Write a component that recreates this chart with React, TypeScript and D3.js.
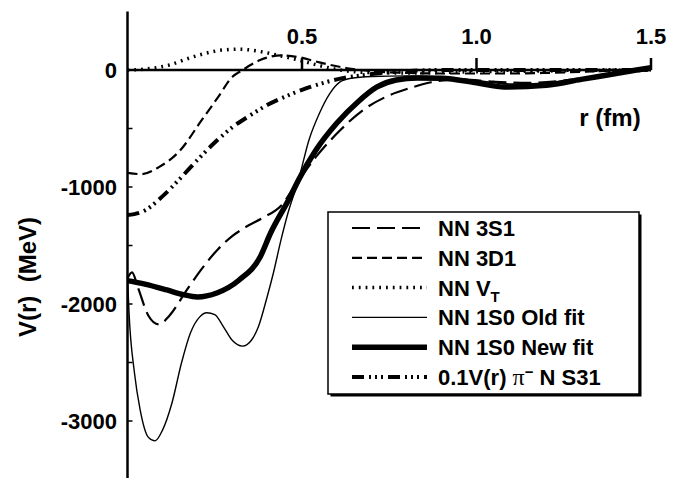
import React from "react";
import * as d3 from "d3";

// r (fm) grid and V(r) (MeV) values, one pair per curve
const rNN3S1 = [0, 0.013, 0.03, 0.06, 0.09, 0.12, 0.17, 0.21, 0.26, 0.3, 0.34, 0.39, 0.44, 0.485, 0.54, 0.61, 0.675, 0.74, 0.81, 0.87, 0.95, 1.05, 1.15, 1.25, 1.35, 1.45, 1.5];
const vNN3S1 = [-1780, -1730, -1860, -2100, -2175, -2100, -1880, -1710, -1530, -1420, -1340, -1260, -1160, -966, -743, -513, -342, -230, -154, -105, -80, -100, -110, -90, -50, -15, 0];

const rNN3D1 = [0, 0.04, 0.09, 0.15, 0.21, 0.26, 0.3, 0.33, 0.38, 0.44, 0.49, 0.55, 0.63, 0.7, 0.8, 0.9, 1.0, 1.1, 1.2, 1.3, 1.4, 1.5];
const vNN3D1 = [-880, -890, -830, -690, -440, -230, -60, 0, 85, 125, 110, 65, 15, -10, -25, -30, -30, -30, -25, -15, -5, 0];

const rNNVT = [0, 0.05, 0.12, 0.18, 0.22, 0.27, 0.32, 0.38, 0.44, 0.49, 0.54, 0.6, 0.68, 0.8, 1.0, 1.2, 1.5];
const vNNVT = [0, 8, 43, 105, 140, 170, 178, 158, 120, 85, 45, 5, -20, -25, -15, -8, 0];

const rOldFit = [0, 0.004, 0.02, 0.036, 0.06, 0.079, 0.1, 0.127, 0.155, 0.18, 0.207, 0.227, 0.25, 0.275, 0.3, 0.33, 0.355, 0.375, 0.4, 0.418, 0.44, 0.46, 0.49, 0.52, 0.55, 0.58, 0.61, 0.64, 0.7, 0.8, 0.9, 1.0, 1.1, 1.2, 1.3, 1.4, 1.5];
const vOldFit = [-1760, -2050, -2590, -2900, -3140, -3170, -3080, -2850, -2500, -2250, -2110, -2075, -2090, -2195, -2310, -2360, -2310, -2195, -1940, -1735, -1450, -1220, -940, -598, -370, -200, -100, -70, -55, -50, -60, -90, -120, -110, -70, -30, 10];

const rNewFit = [0, 0.05, 0.113, 0.16, 0.2, 0.256, 0.32, 0.38, 0.41, 0.466, 0.49, 0.54, 0.6, 0.66, 0.715, 0.77, 0.83, 0.9, 1.0, 1.08, 1.2, 1.3, 1.4, 1.5];
const vNewFit = [-1800, -1830, -1880, -1920, -1940, -1906, -1795, -1598, -1393, -1085, -940, -684, -453, -273, -145, -85, -68, -70, -110, -145, -130, -80, -30, 20];

const rS31 = [0, 0.05, 0.1, 0.15, 0.2, 0.25, 0.3, 0.35, 0.4, 0.45, 0.5, 0.55, 0.6, 0.7, 0.8, 0.9, 1.2, 1.5];
const vS31 = [-1240, -1200, -1080, -930, -770, -620, -490, -390, -300, -230, -170, -120, -80, -35, -10, 0, 0, 0];

const xTicks = [0.5, 1.0, 1.5];
const xTickLabels = ["0.5", "1.0", "1.5"];
const yTicks = [0, -1000, -2000, -3000];
const yMinorTicks = [-500, -1000, -1500, -2000, -2500, -3000, -3500];

const FONT = "'Liberation Sans', Arial, Helvetica, sans-serif";

const series = [
  { name: "NN 3S1", r: rNN3S1, v: vNN3S1, width: 2.2, dash: "18,7" },
  { name: "NN 3D1", r: rNN3D1, v: vNN3D1, width: 2.2, dash: "10,5" },
  { name: "NN VT", r: rNNVT, v: vNNVT, width: 3.5, dash: "1.8,5" },
  { name: "NN 1S0 Old fit", r: rOldFit, v: vOldFit, width: 1.4, dash: "none" },
  { name: "NN 1S0 New fit", r: rNewFit, v: vNewFit, width: 5.5, dash: "none" },
  { name: "S31", r: rS31, v: vS31, width: 4, dash: "12,5,2,4,2,4,2,5" },
];

export default function App() {
  const W = 682;
  const H = 478;

  const x = d3.scaleLinear().domain([0, 1.5]).range([127.5, 651]);
  const y = d3.scaleLinear().domain([-3500, 500]).range([479.5, 11.5]);

  const line = d3
    .line<[number, number]>()
    .x((d) => x(d[0]))
    .y((d) => y(d[1]))
    .curve(d3.curveMonotoneX);

  // legend layout
  const lg = { x: 328, y: 212, w: 311, h: 182 };
  const rowY = (i: number) => 228 + i * 29.8;

  const legendLabel = (i: number) => {
    if (i === 2)
      return (
        <>
          NN V<tspan dy={6} fontSize={15}>T</tspan>
        </>
      );
    if (i === 5)
      return (
        <>
          0.1V(r){" "}
          <tspan fontFamily="'Liberation Serif', 'DejaVu Serif', serif" fontWeight="normal" fontSize={24}>
            π
          </tspan>
          <tspan dy={-8} fontSize={15}>
            −
          </tspan>
          <tspan dy={8}> N S31</tspan>
        </>
      );
    return series[i].name;
  };

  return (
    <svg
      width={W}
      height={H}
      style={{ position: "absolute", left: 0, top: 0, background: "#fff" }}
      fontFamily={FONT}
    >
      {/* curves */}
      {series.map((s) => (
        <path
          key={s.name}
          d={line(s.r.map((r, i) => [r, s.v[i]] as [number, number])) || ""}
          fill="none"
          stroke="#000"
          strokeWidth={s.width}
          strokeDasharray={s.dash}
        />
      ))}

      {/* x axis along V = 0 */}
      <line x1={x(0)} x2={x(1.5)} y1={y(0)} y2={y(0)} stroke="#000" strokeWidth={2.5} />
      {xTicks.map((t, i) => (
        <g key={t}>
          <line x1={x(t)} x2={x(t)} y1={y(0)} y2={y(0) - 12} stroke="#000" strokeWidth={2.5} />
          <text x={x(t)} y={44} textAnchor="middle" fontSize={22} fontWeight="bold">
            {xTickLabels[i]}
          </text>
        </g>
      ))}
      <text x={610} y={126} textAnchor="middle" fontSize={24} fontWeight="bold">
        r (fm)
      </text>

      {/* y axis */}
      <line x1={x(0)} x2={x(0)} y1={y(500)} y2={H} stroke="#000" strokeWidth={2.5} />
      {yMinorTicks.map((t) => (
        <line key={t} x1={x(0)} x2={x(0) + 5} y1={y(t)} y2={y(t)} stroke="#000" strokeWidth={1.5} />
      ))}
      {yTicks.map((t) => (
        <text key={t} x={117} y={y(t)} dy="0.36em" textAnchor="end" fontSize={22} fontWeight="bold">
          {t}
        </text>
      ))}
      <text
        transform={`translate(36,277) rotate(-90)`}
        textAnchor="middle"
        fontSize={24}
        fontWeight="bold"
        style={{ whiteSpace: "pre" }}
      >
        {"V(r)  (MeV)"}
      </text>

      {/* legend */}
      <rect x={lg.x + 2.5} y={lg.y + 2.5} width={lg.w} height={lg.h} fill="#000" />
      <rect x={lg.x} y={lg.y} width={lg.w} height={lg.h} fill="#fff" stroke="#000" strokeWidth={1.5} />
      {series.map((s, i) => (
        <g key={s.name}>
          <line
            x1={352}
            x2={427}
            y1={rowY(i)}
            y2={rowY(i)}
            stroke="#000"
            strokeWidth={s.width}
            strokeDasharray={s.dash}
          />
          <text x={438} y={rowY(i)} dy="0.36em" fontSize={22} fontWeight="bold">
            {legendLabel(i)}
          </text>
        </g>
      ))}
    </svg>
  );
}
